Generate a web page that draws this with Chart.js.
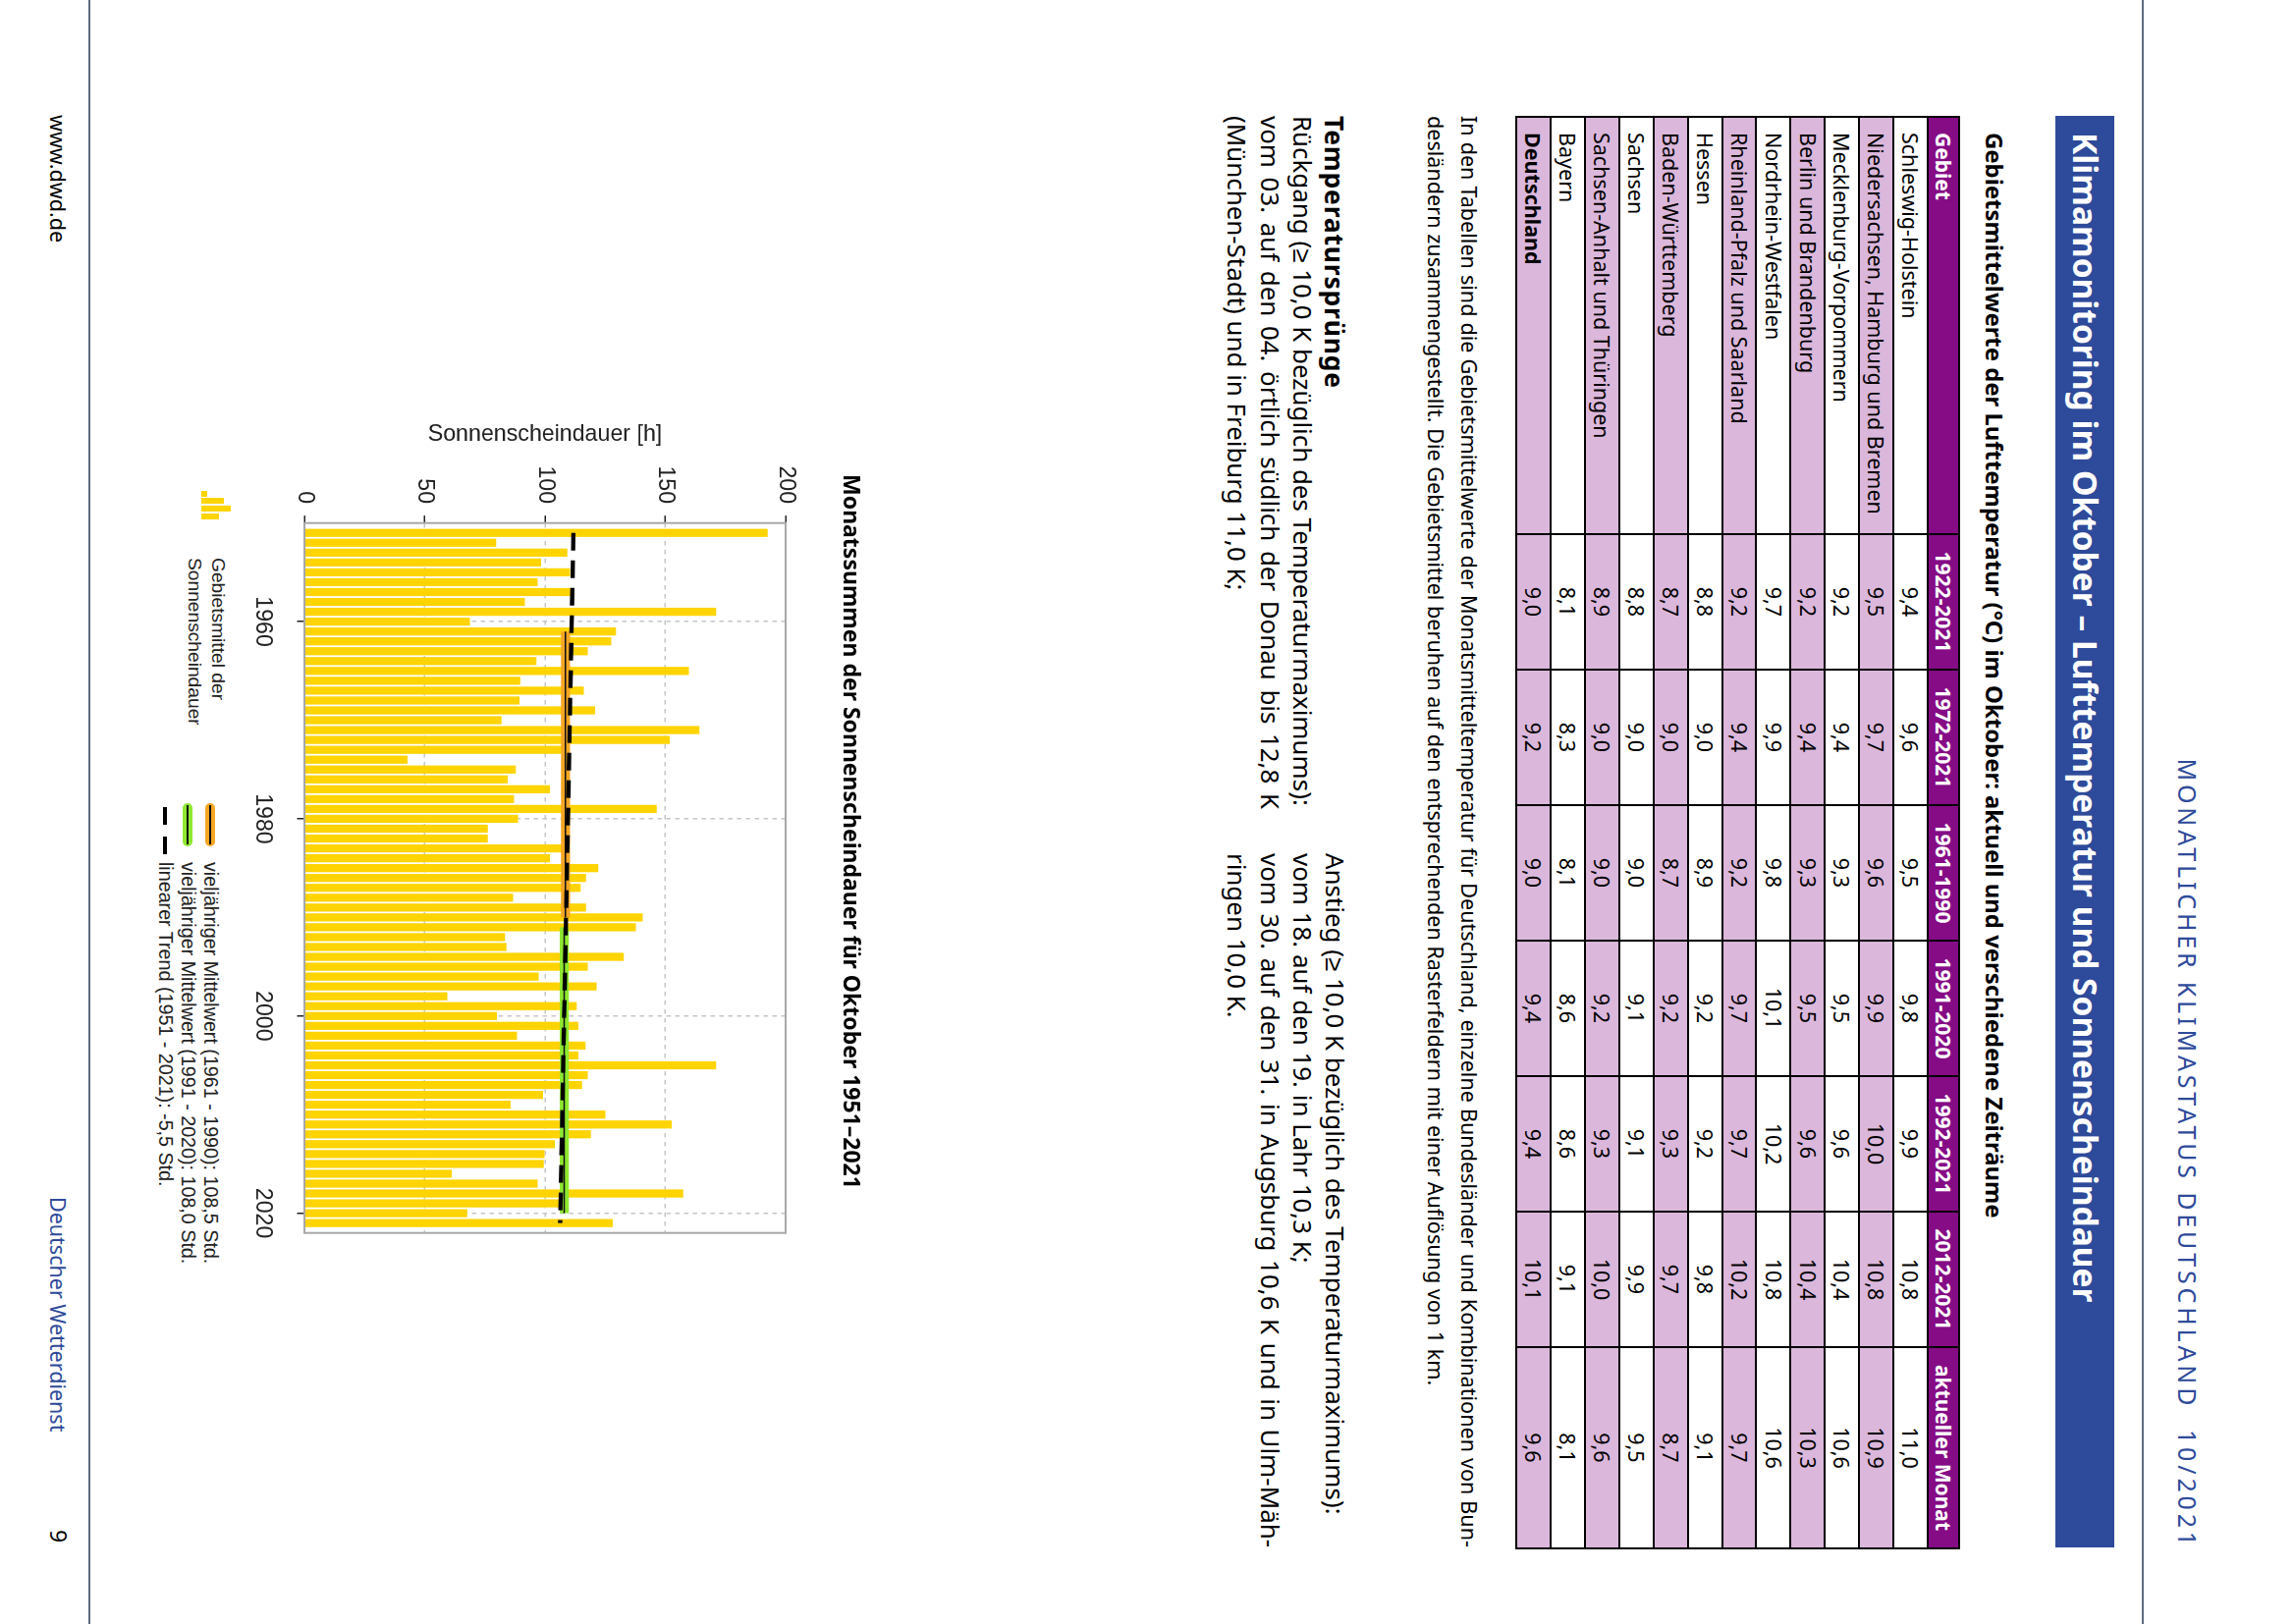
<!DOCTYPE html>
<html lang="de">
<head>
  <meta charset="UTF-8">
  <title>Klimamonitoring im Oktober</title>
  <script src="https://cdn.jsdelivr.net/npm/chart.js"></script>
  <style>
    html, body { margin: 0; width: 100%; height: 100%; overflow: hidden; background: #fff; }
    /* the scanned page lies on its side: everything is laid out upright, then turned */
    #page { position: absolute; left: 0; top: 0; width: 1654px; height: 2336px; transform-origin: 0 0;
            transform: translateX(2336px) rotate(90deg); font-family: "Noto Sans", sans-serif; color: #000; background: #fff; }
    .t { position: absolute; white-space: nowrap; line-height: 1; }
    .b { font-weight: 700; }
    .rule { position: absolute; left: 0; width: 1654px; height: 1.5px; background: #5d6b80; }
    .j { text-align: justify; text-align-last: justify; }
    #band { position: absolute; left: 118px; top: 183px; width: 1458px; height: 60px; background: #2e4a9a; }
    #tbl { position: absolute; left: 118px; top: 340px; width: 1458px; height: 453px; border-collapse: collapse; table-layout: fixed; font-size: 21.5px; line-height: 1; }
    #tbl th, #tbl td { border: 2.5px solid #000; padding: 0; text-align: center; height: 30px; overflow: hidden; white-space: nowrap; }
    #tbl th { background: #850c85; color: #fff; font-size: 21px; }
    #tbl th:first-child, #tbl td:first-child { text-align: left; padding-left: 15px; }
    #tbl tr.pink td { background: #dbb7db; }
    #tbl tr.total td:first-child { font-weight: 700; }
    #chartBox { position: absolute; left: 420px; top: 1450px; width: 854px; height: 650px; }
    .leg { font-family: "Liberation Sans", Arial, sans-serif; font-size: 19.2px; color: #222; }
    .leg.wide { font-size: 19.7px; }
    .swatch { position: absolute; left: 818px; width: 44px; height: 9.5px; border-radius: 5px; }
    .swatch::after { content: ""; position: absolute; left: 2px; right: 2px; top: 4px; height: 1.5px; background: #111; }
    .ibar { position: absolute; width: 5.5px; background: #ffd400; }
  </style>
</head>
<body>
  <div id="page">
    <div class="rule" style="top:153px"></div>
    <div class="rule" style="top:2244px"></div>

    <div class="t" style="left:672px;width:906px;top:96px;font-size:25px;color:#2e4a9a;text-align:right;letter-spacing:3.85px;white-space:pre">MONATLICHER KLIMASTATUS DEUTSCHLAND  10/2021</div>
    <div id="band"></div>
    <div class="t b" style="left:135px;top:196px;font-size:33.5px;color:#fff">Klimamonitoring im Oktober – Lufttemperatur und Sonnenscheindauer</div>
    <div class="t b" style="left:135px;top:293px;font-size:23.9px">Gebietsmittelwerte der Lufttemperatur (°C) im Oktober: aktuell und verschiedene Zeiträume</div>

    <table id="tbl"><colgroup id="cols"></colgroup><thead><tr id="head"></tr></thead><tbody id="rows"></tbody></table>

    <div class="t j" style="left:118px;width:1458px;top:829px;font-size:21.6px">In den Tabellen sind die Gebietsmittelwerte der Monatsmitteltemperatur für Deutschland, einzelne Bundesländer und Kombinationen von Bun-</div>
    <div class="t" style="left:118px;top:863px;font-size:21.6px">desländern zusammengestellt. Die Gebietsmittel beruhen auf den entsprechenden Rasterfeldern mit einer Auflösung von 1 km.</div>

    <div class="t b" style="left:118px;top:964px;font-size:26.5px;letter-spacing:0.8px">Temperatursprünge</div>
    <div class="t" style="left:118px;top:997px;font-size:25.9px">Rückgang (≥ 10,0 K bezüglich des Temperaturmaximums):</div>
    <div class="t j" style="left:118px;width:706px;top:1030px;font-size:25.9px">vom 03. auf den 04. örtlich südlich der Donau bis 12,8 K</div>
    <div class="t" style="left:118px;top:1064px;font-size:25.9px">(München-Stadt) und in Freiburg 11,0 K;</div>
    <div class="t" style="left:869px;top:964px;font-size:25.9px">Anstieg (≥ 10,0 K bezüglich des Temperaturmaximums):</div>
    <div class="t" style="left:869px;top:997px;font-size:25.9px">vom 18. auf den 19. in Lahr 10,3 K;</div>
    <div class="t j" style="left:869px;width:707px;top:1030px;font-size:25.9px">vom 30. auf den 31. in Augsburg 10,6 K und in Ulm-Mäh-</div>
    <div class="t" style="left:869px;top:1064px;font-size:25.9px">ringen 10,0 K.</div>

    <div id="chartBox"><canvas id="sunChart" width="854" height="650"></canvas></div>

    <!-- legend below the plot -->
    <div class="ibar" style="left:500px;top:2125px;height:6px"></div>
    <div class="ibar" style="left:507px;top:2108px;height:23px"></div>
    <div class="ibar" style="left:515px;top:2101px;height:30px"></div>
    <div class="ibar" style="left:523px;top:2113px;height:18px"></div>
    <div class="t leg" style="left:568px;top:2104px">Gebietsmittel der</div>
    <div class="t leg" style="left:568px;top:2128px">Sonnenscheindauer</div>
    <div class="swatch" style="top:2117px;background:#f5a623"></div>
    <div class="swatch" style="top:2140px;background:#8fe82f"></div>
    <div style="position:absolute;left:822px;top:2166px;width:56px;height:4px;background:repeating-linear-gradient(90deg,#000 0 18px,transparent 18px 30px)"></div>
    <div class="t leg wide" style="left:878px;top:2112px">vieljähriger Mittelwert (1961 - 1990): 108,5 Std.</div>
    <div class="t leg wide" style="left:878px;top:2135px">vieljähriger Mittelwert (1991 - 2020): 108,0 Std.</div>
    <div class="t leg wide" style="left:878px;top:2158px">linearer Trend (1951 - 2021): -5,5 Std.</div>

    <div class="t" style="left:117px;top:2266px;font-size:21.5px">www.dwd.de</div>
    <div class="t" style="left:1219px;top:2266px;font-size:21.5px;color:#2e4a9a">Deutscher Wetterdienst</div>
    <div class="t" style="left:1558px;top:2265px;font-size:23px">9</div>
  </div>

  <script>
    // Table
    const periods = ['1922-2021', '1972-2021', '1961-1990', '1991-2020', '1992-2021', '2012-2021', 'aktueller Monat'];
    const columnWidths = [425, 138, 138, 138, 138, 138, 138, 205];
    const regions = ['Schleswig-Holstein', 'Niedersachsen, Hamburg und Bremen', 'Mecklenburg-Vorpommern', 'Berlin und Brandenburg',
      'Nordrhein-Westfalen', 'Rheinland-Pfalz und Saarland', 'Hessen', 'Baden-Württemberg', 'Sachsen', 'Sachsen-Anhalt und Thüringen', 'Bayern', 'Deutschland'];
    const temps = [
      ['9,4', '9,6', '9,5', '9,8', '9,9', '10,8', '11,0'],
      ['9,5', '9,7', '9,6', '9,9', '10,0', '10,8', '10,9'],
      ['9,2', '9,4', '9,3', '9,5', '9,6', '10,4', '10,6'],
      ['9,2', '9,4', '9,3', '9,5', '9,6', '10,4', '10,3'],
      ['9,7', '9,9', '9,8', '10,1', '10,2', '10,8', '10,6'],
      ['9,2', '9,4', '9,2', '9,7', '9,7', '10,2', '9,7'],
      ['8,8', '9,0', '8,9', '9,2', '9,2', '9,8', '9,1'],
      ['8,7', '9,0', '8,7', '9,2', '9,3', '9,7', '8,7'],
      ['8,8', '9,0', '9,0', '9,1', '9,1', '9,9', '9,5'],
      ['8,9', '9,0', '9,0', '9,2', '9,3', '10,0', '9,6'],
      ['8,1', '8,3', '8,1', '8,6', '8,6', '9,1', '8,1'],
      ['9,0', '9,2', '9,0', '9,4', '9,4', '10,1', '9,6']
    ];

    // Chart
    const years = [];
    for (let y = 1951; y <= 2021; y++) years.push(y);
    const sunshine = [192.4, 79.6, 109.2, 98.2, 110.3, 96.8, 110.8, 91.5, 171, 68.6,
      129.4, 127.4, 117.6, 96.3, 159.7, 89.6, 116, 89.3, 120.7, 81.8,
      164.1, 151.7, 108, 42.7, 87.7, 84.4, 101.9, 87, 146.3, 88.6,
      76.1, 76.1, 107.4, 101.9, 122, 116.9, 114.7, 86.6, 116.9, 140.5,
      137.6, 83.2, 83.8, 132.6, 117.6, 97.2, 121.3, 59.3, 113, 79.9,
      113.7, 88.2, 116.7, 113.7, 171, 117.6, 115.3, 99, 85.6, 125,
      152.5, 118.9, 103.9, 99.7, 99.4, 61.1, 96.8, 157.3, 107.4, 67.5, 128];
    const yearTicks = [1960, 1980, 2000, 2020];
    const meanOldSpan = [1961, 1990];
    const meanOldValue = 108.5;
    const meanNewSpan = [1991, 2020];
    const meanNewValue = 108.0;
    const trendYears = [1951, 2021];
    const trendValues = [111.8, 106.3];

    document.getElementById('cols').innerHTML = columnWidths.map(w => `<col style="width:${w}px">`).join('');
    document.getElementById('head').innerHTML = ['Gebiet', ...periods].map(p => `<th>${p}</th>`).join('');
    document.getElementById('rows').innerHTML = regions.map((r, i) => {
      const cls = (i % 2 ? 'pink' : '') + (i === regions.length - 1 ? ' total' : '');
      return `<tr class="${cls}"><td>${r}</td>${temps[i].map(v => `<td>${v}</td>`).join('')}</tr>`;
    }).join('');

    const span = (xs, v) => xs.map(x => ({ x: x, y: v }));
    const plotFrame = {
      id: 'plotFrame',
      afterDatasetsDraw(chart) {
        const a = chart.chartArea, ctx = chart.ctx;
        ctx.save();
        ctx.strokeStyle = '#a8a8a8';
        ctx.lineWidth = 2;
        ctx.strokeRect(a.left, a.top, a.right - a.left, a.bottom - a.top);
        ctx.restore();
      }
    };
    const tickFont = { family: '"Liberation Sans", Arial, sans-serif', size: 23.2 };

    new Chart(document.getElementById('sunChart'), {
      type: 'bar',
      data: {
        datasets: [
          { type: 'line', data: trendYears.map((x, i) => ({ x: x, y: trendValues[i] })), borderColor: '#000', borderWidth: 4.3, borderDash: [18, 10], pointRadius: 0, order: 1 },
          { type: 'line', data: span(meanNewSpan, meanNewValue), borderColor: '#111', borderWidth: 1.5, pointRadius: 0, order: 2 },
          { type: 'line', data: span(meanOldSpan, meanOldValue), borderColor: '#111', borderWidth: 1.5, pointRadius: 0, order: 2 },
          { type: 'line', data: span(meanNewSpan, meanNewValue), borderColor: '#8fe82f', borderWidth: 9.3, pointRadius: 0, order: 3 },
          { type: 'line', data: span(meanOldSpan, meanOldValue), borderColor: '#f5a623', borderWidth: 9.3, pointRadius: 0, order: 3 },
          { type: 'bar', data: years.map((x, i) => ({ x: x, y: sunshine[i] })), backgroundColor: '#ffd400', barThickness: 7.6, order: 4 }
        ]
      },
      options: {
        responsive: false,
        animation: false,
        plugins: {
          legend: { display: false },
          tooltip: { enabled: false },
          title: {
            display: true,
            text: 'Monatssummen der Sonnenscheindauer für Oktober 1951–2021',
            color: '#000',
            font: { family: '"Noto Sans", sans-serif', size: 23, weight: 'bold', lineHeight: 1.2 },
            padding: { top: 7, bottom: 51.4 }
          }
        },
        scales: {
          x: {
            type: 'linear',
            min: 1950,
            max: 2022,
            offset: false,
            afterBuildTicks: s => { s.ticks = yearTicks.map(v => ({ value: v })); },
            // plot edge is set here, the title stays centred on the whole canvas
            afterFit: s => { s.height = 74; s.paddingLeft = 0; s.paddingRight = 18.3; },
            ticks: { font: tickFont, color: '#222', padding: 21, maxRotation: 0, callback: v => String(v) },
            grid: { offset: false, color: '#c6c6c6', lineWidth: 1.5, tickColor: '#222', tickWidth: 1.5, tickLength: 7.6 },
            border: { display: false, dash: [4.5, 4.5] }
          },
          y: {
            min: 0,
            max: 200,
            afterFit: s => { s.width = 112.7; },
            ticks: { stepSize: 50, font: tickFont, color: '#222', padding: 12 },
            grid: { color: '#c6c6c6', lineWidth: 1.5, tickColor: '#222', tickWidth: 1.5, tickLength: 7.6 },
            border: { display: false, dash: [4.5, 4.5] },
            title: { display: true, text: 'Sonnenscheindauer [h]', color: '#222', font: tickFont, padding: { top: 9, bottom: 0 } }
          }
        }
      },
      plugins: [plotFrame]
    });
  </script>
</body>
</html>
